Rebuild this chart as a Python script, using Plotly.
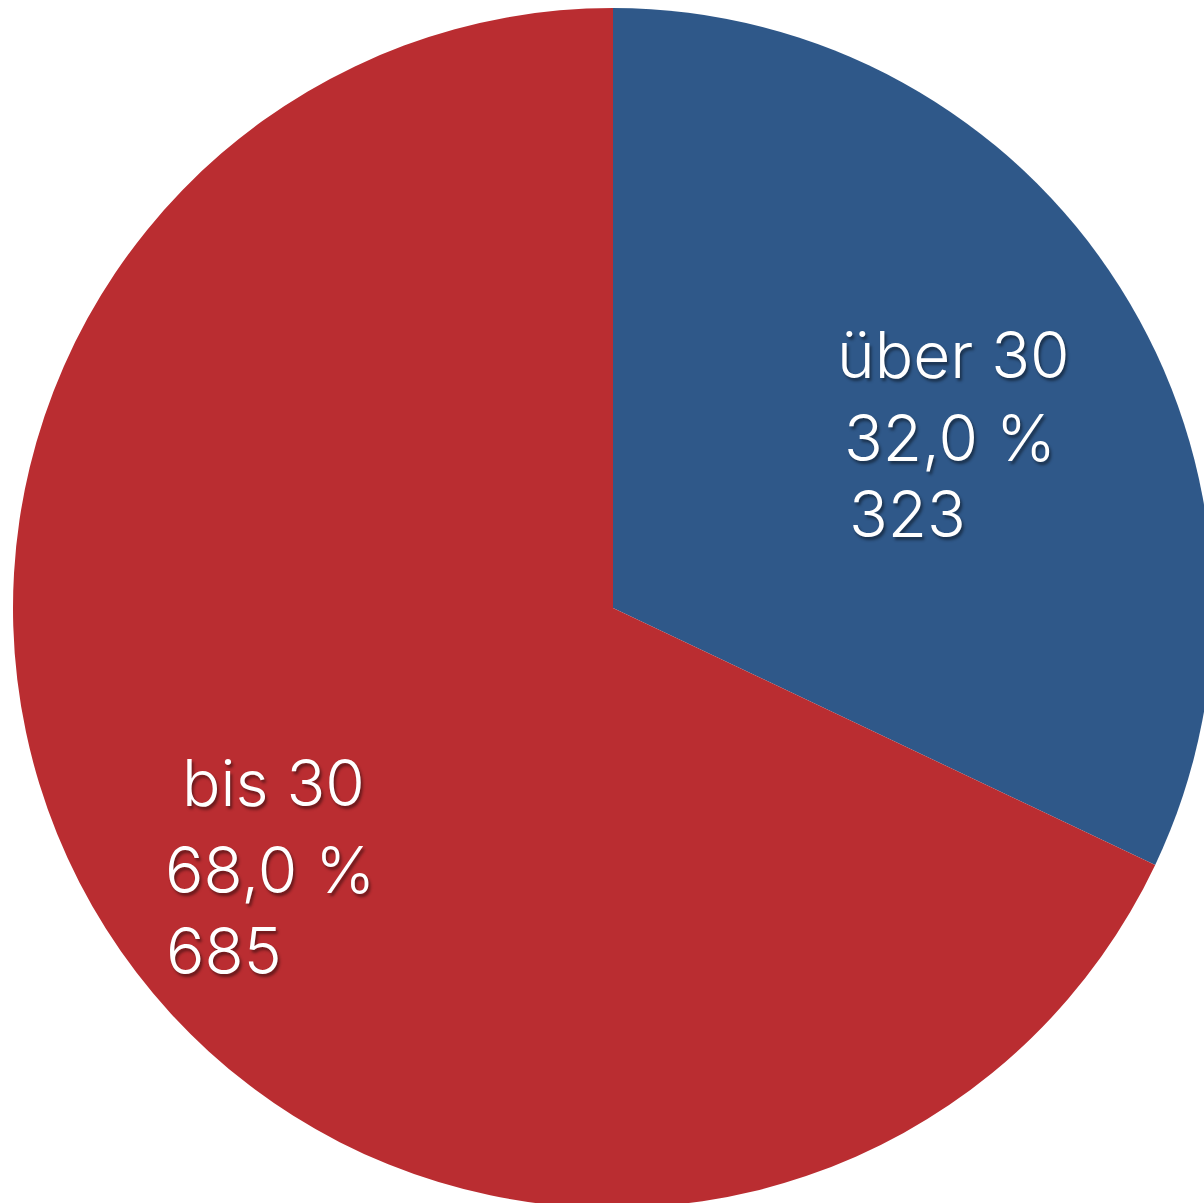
import plotly.graph_objects as go

categories = ["über 30", "bis 30"]
counts = [323, 685]
percent_labels = ["32,0 %", "68,0 %"]
colors = ["#2F5889", "#BA2D31"]

# figure slightly larger than the window; the pie runs off the right/bottom edge like the reference
W, H = 1226, 1216
CX, CY, R = 613, 608, 600  # pie centre / radius in page pixels

fig = go.Figure(go.Pie(
    labels=categories,
    values=counts,
    sort=False,
    direction="clockwise",
    rotation=0,
    marker=dict(colors=colors, line=dict(width=0)),
    textinfo="none",
    hoverinfo="label+value+percent",
    domain=dict(x=[(CX - R) / W, (CX + R) / W], y=[1 - (CY + R) / H, 1 - (CY - R) / H]),
    showlegend=False,
))

# label line positions (page pixels: left edge, vertical centre), one line per annotation
label_lines = {
    "über 30": [(835, 354), (842, 437), (847, 513)],
    "bis 30": [(180, 782), (163, 869), (164, 950)],
}

annotations = []
for cat, cnt, pct in zip(categories, counts, percent_labels):
    texts = [cat, pct, str(cnt)]
    for t, (px, py) in zip(texts, label_lines[cat]):
        annotations.append(dict(
            text=t, x=px / W, y=1 - py / H,
            xref="paper", yref="paper",
            xanchor="left", yanchor="middle", showarrow=False,
            font=dict(family="Inter, Liberation Sans, sans-serif", weight=300, size=64, color="white",
                      shadow="2px 3px 3px rgba(0,0,0,0.45)"),
        ))

fig.update_layout(
    width=W, height=H,
    margin=dict(l=0, r=0, t=0, b=0),
    paper_bgcolor="white",
    plot_bgcolor="white",
    annotations=annotations,
)

fig.write_html(
    "out.html",
    config={"displayModeBar": False},
    post_script="document.body.style.margin='0';"
                "document.body.style.overflow='hidden';"
                "document.documentElement.style.overflow='hidden';",
)
